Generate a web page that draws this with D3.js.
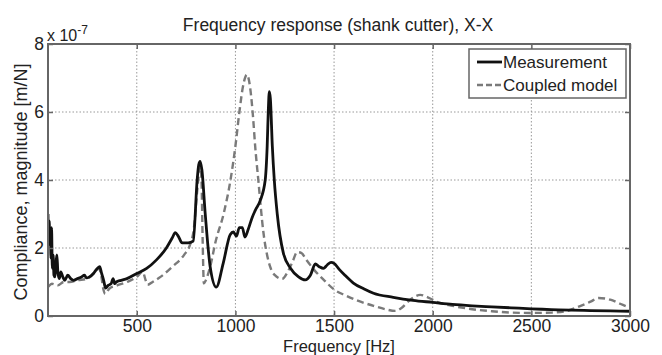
<!DOCTYPE html>
<html>
<head>
<meta charset="utf-8">
<script src="https://cdn.jsdelivr.net/npm/d3@7/dist/d3.min.js"></script>
<style>
  html, body { margin: 0; padding: 0; background: #fff; }
  text { font-family: "Liberation Sans", Arial, sans-serif; fill: #222; }
</style>
</head>
<body>
<svg id="chart" width="662" height="355"></svg>
<script>
// ---- Data (compliance magnitude in units of 1e-7 m/N) ----
const titleText = "Frequency response (shank cutter), X-X";
const xTicks = [500, 1000, 1500, 2000, 2500, 3000];
const yTicks = [0, 2, 4, 6, 8];

const measFreq = [50,53,56,59,62,65,68,72,76,80,85,90,95,100,107,115,125,135,150,165,180,200,220,235,245,260,280,300,312,322,332,342,355,370,380,388,396,420,450,500,550,600,650,680,695,710,730,760,786,806,814,821,830,847,872,903,938,974,990,1005,1020,1035,1048,1065,1085,1100,1126,1151,1161,1167,1172,1177,1187,1197,1212,1243,1280,1320,1354,1380,1405,1425,1446,1465,1485,1500,1525,1555,1598,1650,1700,1800,1900,2000,2100,2200,2300,2400,2500,2600,2700,2800,2900,3000];
const measVal  = [3.0,2.1,2.8,2.2,2.6,1.7,2.6,1.4,1.8,1.2,1.15,1.5,1.8,1.3,1.1,1.3,1.15,1.05,1.2,1.1,1.05,1.1,1.15,1.2,1.12,1.15,1.25,1.4,1.45,1.25,1.05,0.82,0.9,0.95,1.1,0.95,1.0,1.05,1.1,1.25,1.4,1.65,2.0,2.3,2.45,2.35,2.15,2.15,2.2,4.0,4.45,4.55,4.3,3.0,1.45,0.85,1.55,2.4,2.47,2.35,2.6,2.6,2.32,2.55,2.9,3.1,3.4,4.0,5.0,6.1,6.6,6.4,5.0,4.0,3.0,1.85,1.4,1.15,1.06,1.2,1.53,1.45,1.4,1.5,1.58,1.55,1.38,1.2,0.97,0.8,0.67,0.55,0.46,0.4,0.34,0.3,0.27,0.24,0.21,0.19,0.17,0.16,0.15,0.14];

const modelFreq = [50,70,100,130,160,200,250,290,305,318,330,340,360,400,450,500,530,545,555,580,620,680,740,770,790,805,815,821,828,834,840,850,872,900,940,975,1000,1020,1040,1058,1075,1090,1100,1116,1141,1176,1200,1237,1265,1290,1313,1335,1360,1400,1450,1500,1560,1620,1700,1760,1810,1845,1880,1937,1975,2020,2100,2200,2300,2400,2495,2600,2680,2750,2800,2840,2900,2950,3000];
const modelVal  = [0.85,0.95,0.9,1.0,1.0,1.05,1.1,1.3,1.4,1.25,0.8,0.65,0.8,0.9,1.0,1.15,1.3,1.05,0.92,1.0,1.15,1.45,1.8,2.1,2.6,3.6,4.2,4.4,4.0,2.2,0.96,1.05,1.45,2.2,3.0,4.0,5.0,6.0,6.8,7.1,6.7,5.8,5.0,4.0,2.5,1.45,1.2,1.09,1.3,1.6,1.88,1.85,1.65,1.35,1.05,0.78,0.6,0.45,0.3,0.2,0.15,0.25,0.45,0.62,0.55,0.42,0.3,0.2,0.14,0.1,0.09,0.1,0.15,0.3,0.42,0.53,0.48,0.36,0.24];

const legendLabels = ["Measurement", "Coupled model"];

// ---- Layout ----
const svg = d3.select("#chart");
const L = 48, R = 630, T = 44, B = 316;

const x = d3.scaleLinear().domain([50, 3000]).range([L, R]);
const y = d3.scaleLinear().domain([0, 8]).range([B, T]);

// Grid
const grid = svg.append("g");
grid.selectAll("line.vx").data(xTicks.filter(d => d < 3000)).enter().append("line")
  .attr("x1", d => x(d)).attr("x2", d => x(d)).attr("y1", T).attr("y2", B)
  .attr("stroke", "#999").attr("stroke-width", 1).attr("stroke-dasharray", "1.5,2");
grid.selectAll("line.hy").data(yTicks.filter(d => d > 0 && d < 8)).enter().append("line")
  .attr("x1", L).attr("x2", R).attr("y1", d => y(d)).attr("y2", d => y(d))
  .attr("stroke", "#999").attr("stroke-width", 1).attr("stroke-dasharray", "1.5,2");

// Lines
const line = d3.line().x(d => x(d[0])).y(d => y(d[1])).curve(d3.curveMonotoneX);
const measData = measFreq.map((f, i) => [f, measVal[i]]);
const modelData = modelFreq.map((f, i) => [f, modelVal[i]]);

svg.append("clipPath").attr("id", "clip").append("rect")
  .attr("x", L).attr("y", T).attr("width", R - L).attr("height", B - T);

const plot = svg.append("g").attr("clip-path", "url(#clip)");
plot.append("path").datum(modelData).attr("d", line)
  .attr("fill", "none").attr("stroke", "#7a7a7a").attr("stroke-width", 2.4)
  .attr("stroke-dasharray", "7,4");
plot.append("path").datum(measData).attr("d", line)
  .attr("fill", "none").attr("stroke", "#111").attr("stroke-width", 2.8)
  .attr("stroke-linejoin", "round");

// Axes
const axisColor = "#666";
const fmt = d3.format("d");
const xAxisB = d3.axisBottom(x).tickValues(xTicks).tickFormat(fmt).tickSizeInner(-5).tickSizeOuter(0).tickPadding(4);
const xAxisT = d3.axisTop(x).tickValues(xTicks).tickSizeInner(-5).tickSizeOuter(0).tickFormat("");
const yAxisL = d3.axisLeft(y).tickValues(yTicks).tickFormat(fmt).tickSizeInner(-5).tickSizeOuter(0).tickPadding(4);
const yAxisR = d3.axisRight(y).tickValues(yTicks).tickSizeInner(-5).tickSizeOuter(0).tickFormat("");

function style(g) {
  g.select(".domain").remove();
  g.selectAll(".tick line").attr("stroke", axisColor).attr("stroke-width", 1.5);
  g.selectAll(".tick text").attr("font-size", 17.5).attr("fill", "#222")
    .attr("font-family", '"Liberation Sans", Arial, sans-serif');
}
svg.append("g").attr("transform", `translate(0,${B})`).call(xAxisB).call(style);
svg.append("g").attr("transform", `translate(0,${T})`).call(xAxisT).call(style);
svg.append("g").attr("transform", `translate(${L},0)`).call(yAxisL).call(style);
svg.append("g").attr("transform", `translate(${R},0)`).call(yAxisR).call(style);

// Box
svg.append("rect").attr("x", L).attr("y", T).attr("width", R - L).attr("height", B - T)
  .attr("fill", "none").attr("stroke", axisColor).attr("stroke-width", 2);

// Exponent
const ex = svg.append("text").attr("x", 47).attr("y", 41).attr("font-size", 16);
ex.append("tspan").text("x 10");
ex.append("tspan").attr("dy", -7).attr("font-size", 12).text("-7");

// Title and labels
svg.append("text").attr("x", (L + R) / 2 - 1).attr("y", 31).attr("text-anchor", "middle")
  .attr("font-size", 17.5).text(titleText);
svg.append("text").attr("x", (L + R) / 2).attr("y", 352).attr("text-anchor", "middle")
  .attr("font-size", 16.5).text("Frequency [Hz]");
svg.append("text").attr("transform", `translate(27,${(T + B) / 2 + 2}) rotate(-90)`)
  .attr("text-anchor", "middle").attr("font-size", 18).text("Compliance, magnitude [m/N]");

// Legend
const lg = svg.append("g");
lg.append("rect").attr("x", 469).attr("y", 49).attr("width", 157).attr("height", 49)
  .attr("fill", "#fff").attr("stroke", axisColor).attr("stroke-width", 1.5);
lg.append("line").attr("x1", 477).attr("x2", 502).attr("y1", 62).attr("y2", 62)
  .attr("stroke", "#111").attr("stroke-width", 2.8);
lg.append("line").attr("x1", 477).attr("x2", 502).attr("y1", 85).attr("y2", 85)
  .attr("stroke", "#7a7a7a").attr("stroke-width", 2.4).attr("stroke-dasharray", "6,3");
lg.selectAll("text.lt").data(legendLabels).enter().append("text")
  .attr("x", 503).attr("y", (d, i) => 68 + i * 23).attr("font-size", 17).text(d => d);
</script>
</body>
</html>
